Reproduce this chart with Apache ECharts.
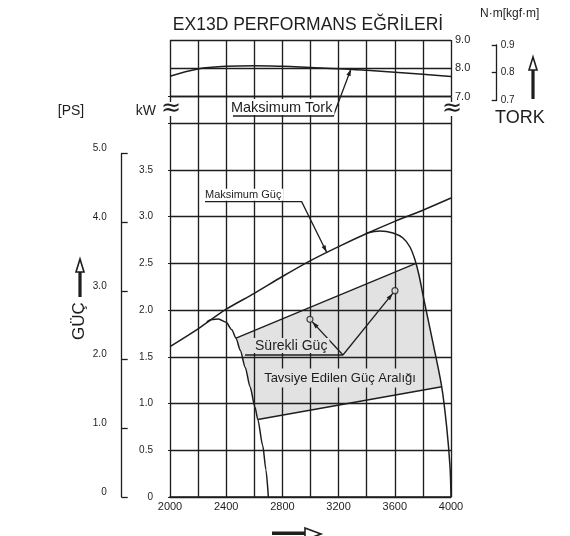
<!DOCTYPE html>
<html>
<head>
<meta charset="utf-8">
<script src="https://cdn.jsdelivr.net/npm/echarts@6.0.0/dist/echarts.min.js"></script>
<style>html,body{margin:0;padding:0;background:#fff}#c{width:570px;height:536px}</style>
</head>
<body>
<div id="c"></div>
<script>
// ---------------- data ----------------
const rpmTicks = [2000, 2200, 2400, 2600, 2800, 3000, 3200, 3400, 3600, 3800, 4000];
const torqueRpm = [2000, 2200, 2400, 2600, 2800, 3000, 3200, 3400, 3600, 3800, 4000];
const torqueNm = [7.72, 7.98, 8.07, 8.09, 8.07, 8.03, 7.99, 7.93, 7.86, 7.79, 7.71];
const maxPowerRpm = [2000, 2200, 2400, 2600, 2800, 3000, 3200, 3400, 3600, 3800, 4000];
const maxPowerKw = [1.61, 1.80, 2.01, 2.18, 2.36, 2.53, 2.68, 2.82, 2.95, 3.07, 3.20];
const leftCurveRpm = [2262, 2300, 2345, 2400, 2440, 2470, 2500, 2535, 2570, 2605, 2625, 2660, 2683, 2700];
const leftCurveKw = [1.875, 1.90, 1.905, 1.87, 1.79, 1.70, 1.57, 1.39, 1.18, 0.96, 0.83, 0.55, 0.29, 0];
const rightCurveRpm = [3395, 3495, 3587, 3658, 3708, 3744, 3772, 3808, 3872, 3934, 3969, 3993, 4000];
const rightCurveKw = [2.823, 2.847, 2.826, 2.772, 2.676, 2.537, 2.376, 2.108, 1.648, 1.18, 0.753, 0.324, 0];
const rangeRpm = [2470, 3750, 3772, 3808, 3872, 3934, 2625, 2605, 2570, 2535, 2500];
const rangeKw = [1.70, 2.50, 2.376, 2.108, 1.648, 1.18, 0.83, 0.96, 1.18, 1.39, 1.57];
const contPointRpm = [2996, 3601];
const contPointKw = [1.902, 2.208];
const kwTickLabels = ['0', '0.5', '1.0', '1.5', '2.0', '2.5', '3.0', '3.5'];
const psTickLabels = ['0', '1.0', '2.0', '3.0', '4.0', '5.0'];
const torqueTickLabels = ['7.0', '8.0', '9.0'];
const kgfTickLabels = ['0.7', '0.8', '0.9'];

// annotation anchors (data coordinates)
const gucLeader = [[2249, 3.161], [2937, 3.161], [3115, 2.62]];
const torkUnder = [[2448, 4.078], [3162, 4.078]];
const torkTip = [3288, 7.977];
const surekliUnder = [[2534, 1.52], [3231, 1.52]];
const tavsiyeAnchor = [3210, 1.274];

// ---------------- layout / style ----------------
const INK = '#1e1e1e';
const GREY = '#e2e2e2';
const FONT = "'Liberation Sans', Arial, sans-serif";
const L = 170, R = 451, T = 40, TB = 96.7, B = 497, K4 = 123.3;
const pxPerKW = (B - K4) / 4;
const kwMax = (B - TB) / pxPerKW;
const PS_KW = 0.73549875;
const pxPerNm = (TB - T) / 2;
const KGF = 9.80665;

const chart = echarts.init(document.getElementById('c'));
const split = { show: true, lineStyle: { color: INK, width: 1.35 } };
const lab = (size, extra) => Object.assign({ fontFamily: FONT, fontSize: size, color: INK }, extra);
const pick = (labels, step, base) => v => {
  const i = Math.round((v - base) / step);
  return (Math.abs(v - (base + i * step)) < 1e-6 && labels[i] !== undefined) ? labels[i] : '';
};
const mk = (xs, ys) => xs.map((x, i) => [x, ys[i]]);
const line = (gi, xs, ys, extra) => Object.assign({
  type: 'line', xAxisIndex: gi, yAxisIndex: gi, data: mk(xs, ys), symbol: 'none',
  lineStyle: { color: INK, width: 1.5 }, z: 4, silent: true
}, extra);

const option = {
  animation: false,
  grid: [
    { left: L, top: T, width: R - L, height: TB - T },
    { left: L, top: TB, width: R - L, height: B - TB },
    { left: 121.7, top: B - 5 * PS_KW * pxPerKW, width: 1, height: 5 * PS_KW * pxPerKW },
    { left: 496.7, top: T + (9 - 0.9 * KGF) * pxPerNm, width: 1, height: 0.2 * KGF * pxPerNm }
  ],
  xAxis: [
    { type: 'value', gridIndex: 0, min: 2000, max: 4000, interval: 200, z: 3,
      axisLine: { show: false }, axisTick: { show: false }, axisLabel: { show: false }, splitLine: split },
    { type: 'value', gridIndex: 1, min: 2000, max: 4000, interval: 200, z: 3,
      axisLine: { show: true, lineStyle: { color: INK, width: 1.7 } }, axisTick: { show: false },
      axisLabel: lab(11, { margin: 4, formatter: v => (rpmTicks.indexOf(v) % 2 === 0 ? String(v) : '') }),
      splitLine: split },
    { type: 'value', gridIndex: 2, show: false, min: 0, max: 1 },
    { type: 'value', gridIndex: 3, show: false, min: 0, max: 1 }
  ],
  yAxis: [
    { type: 'value', gridIndex: 0, position: 'right', min: 7, max: 9, interval: 1, z: 3,
      axisLine: { show: false }, axisTick: { show: false },
      axisLabel: lab(11, { margin: 4, formatter: pick(torqueTickLabels, 1, 7) }), splitLine: split },
    { type: 'value', gridIndex: 1, position: 'left', min: 0, max: kwMax, interval: 0.5, z: 3,
      axisLine: { show: false }, axisTick: { show: true, length: 2, lineStyle: { color: INK } },
      axisLabel: lab(10, { margin: 17, formatter: pick(kwTickLabels, 0.5, 0) }), splitLine: split },
    { type: 'value', gridIndex: 2, position: 'left', min: 0, max: 5, interval: 1,
      axisLine: { show: true, lineStyle: { color: INK, width: 1.3 } },
      axisTick: { show: true, inside: true, length: 6, lineStyle: { color: INK, width: 1.3 } },
      axisLabel: lab(10, { margin: 15, verticalAlign: 'bottom', formatter: pick(psTickLabels, 1, 0) }),
      splitLine: { show: false } },
    { type: 'value', gridIndex: 3, position: 'right', min: 0.7, max: 0.9, interval: 0.1,
      axisLine: { show: true, lineStyle: { color: INK, width: 1.3 } },
      axisTick: { show: true, inside: true, length: 5, lineStyle: { color: INK, width: 1.3 } },
      axisLabel: lab(10, { margin: 3, formatter: pick(kgfTickLabels, 0.1, 0.7) }),
      splitLine: { show: false } }
  ],
  series: [
    line(0, torqueRpm, torqueNm, { smooth: 0.4 }),
    line(1, maxPowerRpm, maxPowerKw, { smooth: 0.3 }),
    line(1, leftCurveRpm, leftCurveKw, { smooth: 0.25, smoothMonotone: 'x' }),
    line(1, rightCurveRpm, rightCurveKw, { smooth: 0.3 }),
    { type: 'custom', xAxisIndex: 1, yAxisIndex: 1, z: 1, silent: true,
      data: mk(rangeRpm, rangeKw),
      renderItem: (params, api) => {
        if (params.dataIndex !== 0) return null;
        const pts = rangeRpm.map((r, i) => api.coord([r, rangeKw[i]]));
        return { type: 'group', children: [
          { type: 'polygon', shape: { points: pts }, style: { fill: GREY } },
          { type: 'line', shape: { x1: pts[0][0], y1: pts[0][1], x2: pts[1][0], y2: pts[1][1] },
            style: { stroke: INK, lineWidth: 1.4 }, z2: 10 },
          { type: 'line', shape: { x1: pts[5][0], y1: pts[5][1], x2: pts[6][0], y2: pts[6][1] },
            style: { stroke: INK, lineWidth: 1.4 }, z2: 10 }
        ] };
      } },
    { type: 'scatter', xAxisIndex: 1, yAxisIndex: 1, z: 7, silent: true,
      data: mk(contPointRpm, contPointKw), symbol: 'circle', symbolSize: 6,
      itemStyle: { color: GREY, borderColor: INK, borderWidth: 1.2 } }
  ]
};
chart.setOption(option);

// ---------------- annotations ----------------
const g = [];
const P = (gi, d) => chart.convertToPixel({ gridIndex: gi }, d);
function poly(points, w) {
  g.push({ type: 'polyline', shape: { points }, style: { stroke: INK, lineWidth: w || 1.3, fill: null }, z: 60, silent: true });
}
function head(from, to, back) {
  const dx = to[0] - from[0], dy = to[1] - from[1], len = Math.hypot(dx, dy);
  const ux = dx / len, uy = dy / len, nx = -uy, ny = ux;
  const tip = [to[0] - ux * back, to[1] - uy * back];
  const b = [tip[0] - ux * 7, tip[1] - uy * 7];
  g.push({ type: 'polygon', shape: { points: [tip, [b[0] + nx * 2.2, b[1] + ny * 2.2], [b[0] - nx * 2.2, b[1] - ny * 2.2]] },
    style: { fill: INK }, z: 61, silent: true });
  return tip;
}
function txt(x, y, s, o) {
  o = o || {};
  g.push({ type: 'text', x, y, rotation: o.rot || 0, z: o.z || 62, silent: true,
    style: Object.assign({ text: s, font: (o.size || 12) + 'px ' + (o.family || FONT), fill: INK,
      align: o.align || 'left', verticalAlign: o.va || 'middle',
      textAlign: o.align || 'left', textVerticalAlign: o.va || 'middle' },
      o.bg ? { backgroundColor: o.bg, padding: o.pad || [1, 2, 1, 2] } : {},
      o.lh ? { lineHeight: o.lh } : {}) });
}

// Maksimum Güç
const gA = P(1, gucLeader[0]), gB = P(1, gucLeader[1]), gC = P(1, gucLeader[2]);
txt(gA[0], gA[1] - 1, 'Maksimum Güç', { size: 11, va: 'bottom', bg: '#fff', pad: [1, 2, 0, 0] });
poly([gA, gB, gC]);
head(gB, gC, 0);

// Maksimum Tork
const tA = P(1, torkUnder[0]), tB = P(1, torkUnder[1]), tC = P(0, torkTip);
txt(tA[0] - 2, tA[1] - 1, 'Maksimum Tork', { size: 14.5, va: 'bottom', bg: '#fff', pad: [1, 2, 0, 0] });
poly([tA, tB, tC]);
head(tB, tC, 0);

// Sürekli Güç
const sA = P(1, surekliUnder[0]), sB = P(1, surekliUnder[1]);
txt(sA[0] + 8, sA[1] - 2, 'Sürekli Güç', { size: 14, va: 'bottom', bg: GREY, pad: [1, 2, 0, 2] });
poly([sA, sB]);
contPointRpm.forEach((r, i) => {
  const c = P(1, [r, contPointKw[i]]);
  const tip = head(sB, c, 3.5);
  poly([sB, tip]);
});

// Tavsiye Edilen Güç Aralığı
const tv = P(1, tavsiyeAnchor);
txt(tv[0], tv[1], 'Tavsiye Edilen Güç Aralığı', { size: 13, align: 'center', bg: GREY, pad: [3, 2, 3, 2] });

// axis decorations
txt(308, 25, 'EX13D PERFORMANS EĞRİLERİ', { size: 17.5, align: 'center' });
txt(480, 14, 'N·m[kgf·m]', { size: 12 });
txt(495, 118, 'TORK', { size: 18 });
txt(71, 111, '[PS]', { size: 14, align: 'center' });
txt(156, 111, 'kW', { size: 14, align: 'right' });
txt(L + 1, 109, '≈', { size: 24, align: 'center', family: "'DejaVu Sans', sans-serif", bg: '#fff', pad: [0, 0, 0, 0], lh: 14 });
txt(R + 1, 109, '≈', { size: 24, align: 'center', family: "'DejaVu Sans', sans-serif", bg: '#fff', pad: [0, 0, 0, 0], lh: 14 });
txt(79, 321, 'GÜÇ', { size: 17, align: 'center', rot: Math.PI / 2 });

function upArrow(x, yTip, yBase, yEnd) {
  g.push({ type: 'rect', shape: { x: x - 1.6, y: yBase, width: 3.2, height: yEnd - yBase }, style: { fill: INK }, z: 60, silent: true });
  g.push({ type: 'polygon', shape: { points: [[x, yTip], [x - 4, yBase], [x + 4, yBase]] },
    style: { fill: '#fff', stroke: INK, lineWidth: 1.6 }, z: 61, silent: true });
}
upArrow(533, 57, 70, 99);
upArrow(80, 259, 272, 297);
g.push({ type: 'rect', shape: { x: 272, y: 531.6, width: 34, height: 3.4 }, style: { fill: INK }, z: 60, silent: true });
g.push({ type: 'polygon', shape: { points: [[305, 528], [321, 534], [305, 540]] },
  style: { fill: '#fff', stroke: INK, lineWidth: 1.6 }, z: 61, silent: true });

chart.setOption({ graphic: { elements: g } });
</script>
</body>
</html>
